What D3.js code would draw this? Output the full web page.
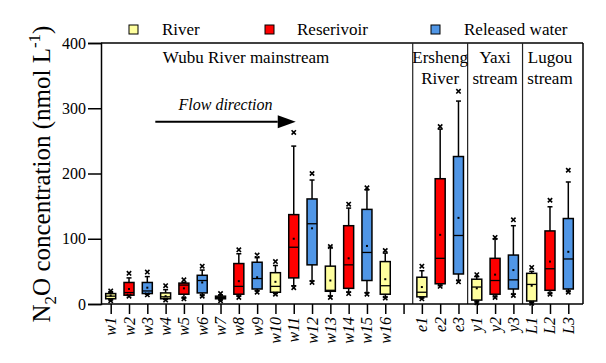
<!DOCTYPE html>
<html>
<head>
<meta charset="utf-8">
<script src="https://cdn.jsdelivr.net/npm/d3@7"></script>
<style>
  html, body { margin: 0; padding: 0; background: #fff; }
  svg { display: block; }
  text { font-family: "Liberation Serif", "Times New Roman", serif; fill: #000; }
</style>
</head>
<body>
<svg id="chart" width="606" height="363"></svg>
<script>
// ---- data ----
const categories = ["w1","w2","w3","w4","w5","w6","w7","w8","w9","w10","w11","w12","w13","w14","w15","w16","gap","e1","e2","e3","y1","y2","y3","L1","L2","L3"];
const siteType   = ["River","Reserivoir","Released water","River","Reserivoir","Released water","River","Reserivoir","Released water","River","Reserivoir","Released water","River","Reserivoir","Released water","River",null,"River","Reserivoir","Released water","River","Reserivoir","Released water","River","Reserivoir","Released water"];
const minMark  = [5, 12, 14, 6, 8, 12, 5, 10, 18, 15, 25, 33, 10, 16, 15, 9, null, 8, 27, 34, 2, 10, 13, 1, 15, 18];
const whiskLo  = [6, 13, 15, 7, 9, 13, 6, 12, 20, 16, 28, 35, 12, 18, 17, 10, null, 9, 28, 36, 3, 11, 15, 2, 16, 19];
const q1       = [8, 13.5, 16, 8, 15, 17, 8, 15, 23, 18, 40, 60, 19.5, 24, 36, 15, null, 11, 31, 46, 6, 15, 23, 4.6, 21, 23];
const median   = [12, 17.5, 20, 11, 29, 36, 10, 27, 39, 27, 87, 123, 21, 60, 79, 28, null, 18, 70, 105, 26, 36, 37, 30, 54, 69];
const q3       = [16, 33, 33, 17, 32, 44, 12, 62, 64, 48, 137, 161, 58, 120, 145, 65, null, 41, 192, 226, 38, 70, 75, 47, 112, 131];
const whiskHi  = [19, 40, 42, 22, 33, 52, 14, 77, 71, 59, 242, 190, 87, 147, 175, 78, null, 51, 268, 311, 42, 100, 120, 50, 149, 187];
const maxMark  = [20, 47, 49, 28, 37, 58, 16, 83, 75, 65, 263, 200, 88, 153, 178, 82, null, 58, 272, 326, 45, 102, 129, 56, 159, 205];
const meanVal  = [13, 23, 25, 12, 24, 33, 10, 35, 41, 34, 100, 116, 36, 70, 89, 38, null, 26, 106, 132, 24, 45, 52, 28, 65, 80];
const yTicks   = [0, 100, 200, 300, 400];
const legendLabels = ["River", "Reserivoir", "Released water"];
const legendColors = ["#FFFF9E", "#FF0000", "#5096E6"];
const regionTitles = [
  {lines: ["Wubu River mainstream"], from: "w1", to: "gap"},
  {lines: ["Ersheng", "River"], from: "e1", to: "e3"},
  {lines: ["Yaxi", "stream"], from: "y1", to: "y3"},
  {lines: ["Lugou", "stream"], from: "L1", to: "L3"}
];
const dividerAfter = ["gap", "e3", "y3"];

(function () {
// ---- layout ----
const svg = d3.select("#chart");
const pLeft = 101, pRight = 583, pTop = 43, pBottom = 304;
const x = d3.scalePoint().domain(categories).range([110.7, 568.3]);
const y = d3.scaleLinear().domain([0, 400]).range([pBottom, pTop]);
const color = d3.scaleOrdinal().domain(legendLabels).range(legendColors);
const step = x.step();
const boxW = 10;

const rows = categories.map((c, i) => ({
  cat: c, type: siteType[i], min: minMark[i], lo: whiskLo[i], q1: q1[i], med: median[i],
  q3: q3[i], hi: whiskHi[i], max: maxMark[i], mean: meanVal[i]
})).filter(d => d.type);

// frame
svg.append("line").attr("x1", pLeft).attr("x2", pRight).attr("y1", pTop).attr("y2", pTop)
  .attr("stroke", "#000").attr("stroke-width", 1.5);
svg.append("line").attr("x1", pRight).attr("x2", pRight).attr("y1", pTop).attr("y2", pBottom)
  .attr("stroke", "#000").attr("stroke-width", 1.5);

// dividers
dividerAfter.forEach(c => {
  const xv = x(c) + step / 2;
  svg.append("line").attr("x1", xv).attr("x2", xv).attr("y1", pTop).attr("y2", pBottom)
    .attr("stroke", "#222").attr("stroke-width", 1.2);
});

// y axis
const yAxis = d3.axisLeft(y).tickValues(yTicks).tickSize(13).tickPadding(2);
const gy = svg.append("g").attr("transform", `translate(${pLeft},0)`).call(yAxis);
gy.select(".domain").attr("stroke-width", 1.5);
gy.selectAll(".tick line").attr("stroke-width", 1.5);
gy.selectAll(".tick text").style("font-family", "'Liberation Serif', serif").style("font-size", "16px");

// x axis
const xAxis = d3.axisBottom(x).tickSize(10).tickFormat("");
const gx = svg.append("g").attr("transform", `translate(0,${pBottom})`).call(xAxis);
gx.select(".domain").attr("d", `M${pLeft},0H${pRight}`).attr("stroke-width", 1.5);
gx.selectAll(".tick line").attr("stroke-width", 1.5);

// x labels rotated
svg.append("g").selectAll("text").data(categories.filter(c => c !== "gap")).join("text")
  .attr("transform", d => `translate(${x(d)},${pBottom + 13}) rotate(-90)`)
  .attr("text-anchor", "end")
  .attr("dominant-baseline", "central")
  .style("font-size", "16px").style("font-style", "italic")
  .text(d => d);

// boxes
const g = svg.append("g");
const box = g.selectAll("g.box").data(rows).join("g").attr("class", "box")
  .attr("transform", d => `translate(${x(d.cat)},0)`);
box.append("line").attr("y1", d => y(d.q3)).attr("y2", d => y(d.hi)).attr("stroke", "#000").attr("stroke-width", 1.5);
box.append("line").attr("y1", d => y(d.q1)).attr("y2", d => y(d.lo)).attr("stroke", "#000").attr("stroke-width", 1.5);
box.append("line").attr("x1", -2.5).attr("x2", 2.5).attr("y1", d => y(d.hi)).attr("y2", d => y(d.hi)).attr("stroke", "#000").attr("stroke-width", 1.5);
box.append("line").attr("x1", -2.5).attr("x2", 2.5).attr("y1", d => y(d.lo)).attr("y2", d => y(d.lo)).attr("stroke", "#000").attr("stroke-width", 1.5);
box.append("rect").attr("x", -boxW / 2).attr("width", boxW)
  .attr("y", d => y(d.q3)).attr("height", d => y(d.q1) - y(d.q3))
  .attr("fill", d => color(d.type)).attr("stroke", "#000").attr("stroke-width", 1.5);
box.append("line").attr("x1", -boxW / 2).attr("x2", boxW / 2)
  .attr("y1", d => y(d.med)).attr("y2", d => y(d.med)).attr("stroke", "#000").attr("stroke-width", 1.3);
box.append("rect").attr("x", -1).attr("width", 2).attr("height", 2)
  .attr("y", d => y(d.mean) - 1).attr("fill", "#000");
const cross = d3.symbol().type(d3.symbolX).size(14);
["min", "max"].forEach(k => {
  box.append("path").attr("d", cross).attr("transform", d => `translate(0,${y(d[k])})`)
    .attr("fill", "none").attr("stroke", "#000").attr("stroke-width", 1.6);
});

// region titles
regionTitles.forEach(r => {
  const cx = r.lines.length === 1 ? 246 : (x(r.from) + x(r.to)) / 2;
  r.lines.forEach((ln, i) => {
    svg.append("text").attr("x", cx).attr("y", 63 + i * 21).attr("text-anchor", "middle")
      .style("font-size", "17px").text(ln);
  });
});

// flow direction arrow
const ax1 = x("w3") + 8, ax2 = x("w11") - 16, ay = 121.7;
svg.append("line").attr("x1", ax1).attr("x2", ax2).attr("y1", ay).attr("y2", ay)
  .attr("stroke", "#000").attr("stroke-width", 2);
svg.append("path").attr("d", `M${ax2},${ay - 6.5}L${ax2 + 18},${ay}L${ax2},${ay + 6.5}Z`).attr("fill", "#000");
svg.append("text").attr("x", (ax1 + ax2 + 18) / 2).attr("y", 110).attr("text-anchor", "middle")
  .style("font-size", "16px").style("font-style", "italic").text("Flow direction");

// legend
const legendX = [129, 265, 431];
const legendTX = [162, 297, 464];
legendLabels.forEach((lab, i) => {
  svg.append("rect").attr("x", legendX[i]).attr("y", 25).attr("width", 9).attr("height", 9)
    .attr("fill", legendColors[i]).attr("stroke", "#000").attr("stroke-width", 1);
  svg.append("text").attr("x", legendTX[i]).attr("y", 35).style("font-size", "17px").text(lab);
});

// y title
const yt = svg.append("text").attr("transform", "translate(50,174) rotate(-90)")
  .attr("text-anchor", "middle").style("font-size", "25px");
yt.append("tspan").text("N");
yt.append("tspan").attr("dy", 6).style("font-size", "17px").text("2");
yt.append("tspan").attr("dy", -6).text("O concentration (nmol L");
yt.append("tspan").attr("dy", -10).style("font-size", "17px").text("-1");
yt.append("tspan").attr("dy", 10).text(")");
})();
</script>
</body>
</html>
